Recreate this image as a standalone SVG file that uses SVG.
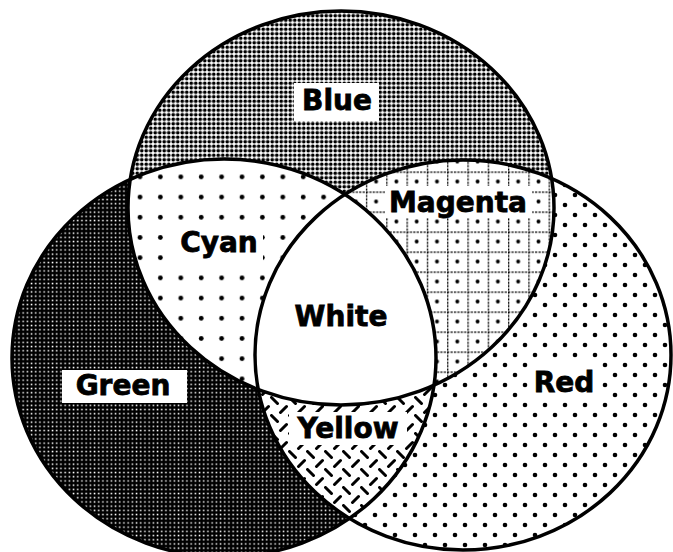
<svg xmlns="http://www.w3.org/2000/svg" width="673" height="552" viewBox="0 0 673 552">
<style>
.lbl{font-family:"DejaVu Sans","Liberation Sans",sans-serif;font-weight:bold;font-size:28px;fill:#000;stroke:#000;stroke-width:0.8;text-anchor:middle}
.outline{fill:none;stroke:#000;stroke-width:3.5}
.bg{fill:#fff}
</style>
<defs>
<pattern id="pBlue" patternUnits="userSpaceOnUse" width="4.5" height="4.5">
<rect width="4.5" height="4.5" fill="#fff"/><circle cx="2.25" cy="2.25" r="1.85" fill="#000"/>
</pattern>
<pattern id="pGreen" patternUnits="userSpaceOnUse" width="4.2" height="4.2">
<rect width="4.2" height="4.2" fill="#000"/><rect x="1.4" y="1.4" width="1.5" height="1.5" fill="#fff"/>
</pattern>
<pattern id="pCyan" patternUnits="userSpaceOnUse" x="130" y="187" width="20.4" height="20.2">
<rect width="20.4" height="20.2" fill="#fff"/><circle cx="10" cy="10" r="2.4" fill="#000"/>
</pattern>
<pattern id="pMagenta" patternUnits="userSpaceOnUse" x="406.5" y="231.5" width="20.3" height="20">
<rect width="20.3" height="20" fill="#fff"/>
<line x1="0" y1="0" x2="20.3" y2="0" stroke="#000" stroke-width="2.6" stroke-dasharray="2.2 1.2"/>
<line x1="0" y1="0" x2="0" y2="20" stroke="#000" stroke-width="2.6" stroke-dasharray="2.2 1.2"/>
<circle cx="10.2" cy="10" r="2" fill="#000"/>
</pattern>
<pattern id="pRed" patternUnits="userSpaceOnUse" x="0" y="0" width="20" height="20">
<rect width="20" height="20" fill="#fff"/><circle cx="5" cy="5" r="2.3" fill="#000"/><circle cx="15" cy="15" r="2.3" fill="#000"/>
</pattern>
<pattern id="pYellow" patternUnits="userSpaceOnUse" x="0" y="0" width="18" height="18">
<rect width="18" height="18" fill="#fff"/>
<line x1="1.5" y1="1.5" x2="7.5" y2="7.5" stroke="#000" stroke-width="3" stroke-linecap="round"/>
<line x1="10.5" y1="16.5" x2="16.5" y2="10.5" stroke="#000" stroke-width="3" stroke-linecap="round"/>
</pattern>
<clipPath id="cB"><ellipse cx="341" cy="208" rx="213" ry="197"/></clipPath>
<clipPath id="cG"><ellipse cx="224" cy="358" rx="212" ry="199"/></clipPath>
<clipPath id="cR"><ellipse cx="463" cy="355" rx="208" ry="195"/></clipPath>
</defs>
<rect width="673" height="552" fill="#fff"/>

<g id="blue">
<ellipse cx="341" cy="208" rx="213" ry="197" fill="url(#pBlue)"/>
<rect class="bg" x="294" y="83" width="85" height="38"/>
<text class="lbl" x="337" y="110">Blue</text>
</g>

<g id="green">
<ellipse cx="224" cy="358" rx="212" ry="199" fill="url(#pGreen)"/>
<rect class="bg" x="62" y="370" width="125" height="33"/>
<text class="lbl" x="123" y="395">Green</text>
</g>

<g id="red">
<ellipse cx="463" cy="355" rx="208" ry="195" fill="url(#pRed)"/>
<rect class="bg" x="528" y="362" width="74" height="36"/>
<text class="lbl" x="564" y="392">Red</text>
</g>

<g id="cyan">
<g clip-path="url(#cB)"><ellipse cx="224" cy="358" rx="212" ry="199" fill="url(#pCyan)"/></g>
<rect class="bg" x="175" y="228" width="88" height="34"/>
<text class="lbl" x="219" y="252">Cyan</text>
</g>

<g id="magenta">
<g clip-path="url(#cB)"><ellipse cx="463" cy="355" rx="208" ry="195" fill="url(#pMagenta)"/></g>
<rect class="bg" x="385" y="186" width="147" height="32"/>
<text class="lbl" x="458" y="212">Magenta</text>
</g>

<g id="yellow">
<g clip-path="url(#cG)"><ellipse cx="463" cy="355" rx="208" ry="195" fill="url(#pYellow)"/></g>
<rect class="bg" x="289" y="412" width="118" height="33"/>
<text class="lbl" x="348" y="438">Yellow</text>
</g>

<g id="white">
<g clip-path="url(#cB)"><g clip-path="url(#cG)"><ellipse cx="463" cy="355" rx="208" ry="195" fill="#fff"/></g></g>
<text class="lbl" x="341" y="326">White</text>
</g>

<g id="outlines">
<ellipse class="outline" cx="341" cy="208" rx="213" ry="197"/>
<ellipse class="outline" cx="224" cy="358" rx="212" ry="199"/>
<ellipse class="outline" cx="463" cy="355" rx="208" ry="195"/>
</g>
</svg>
